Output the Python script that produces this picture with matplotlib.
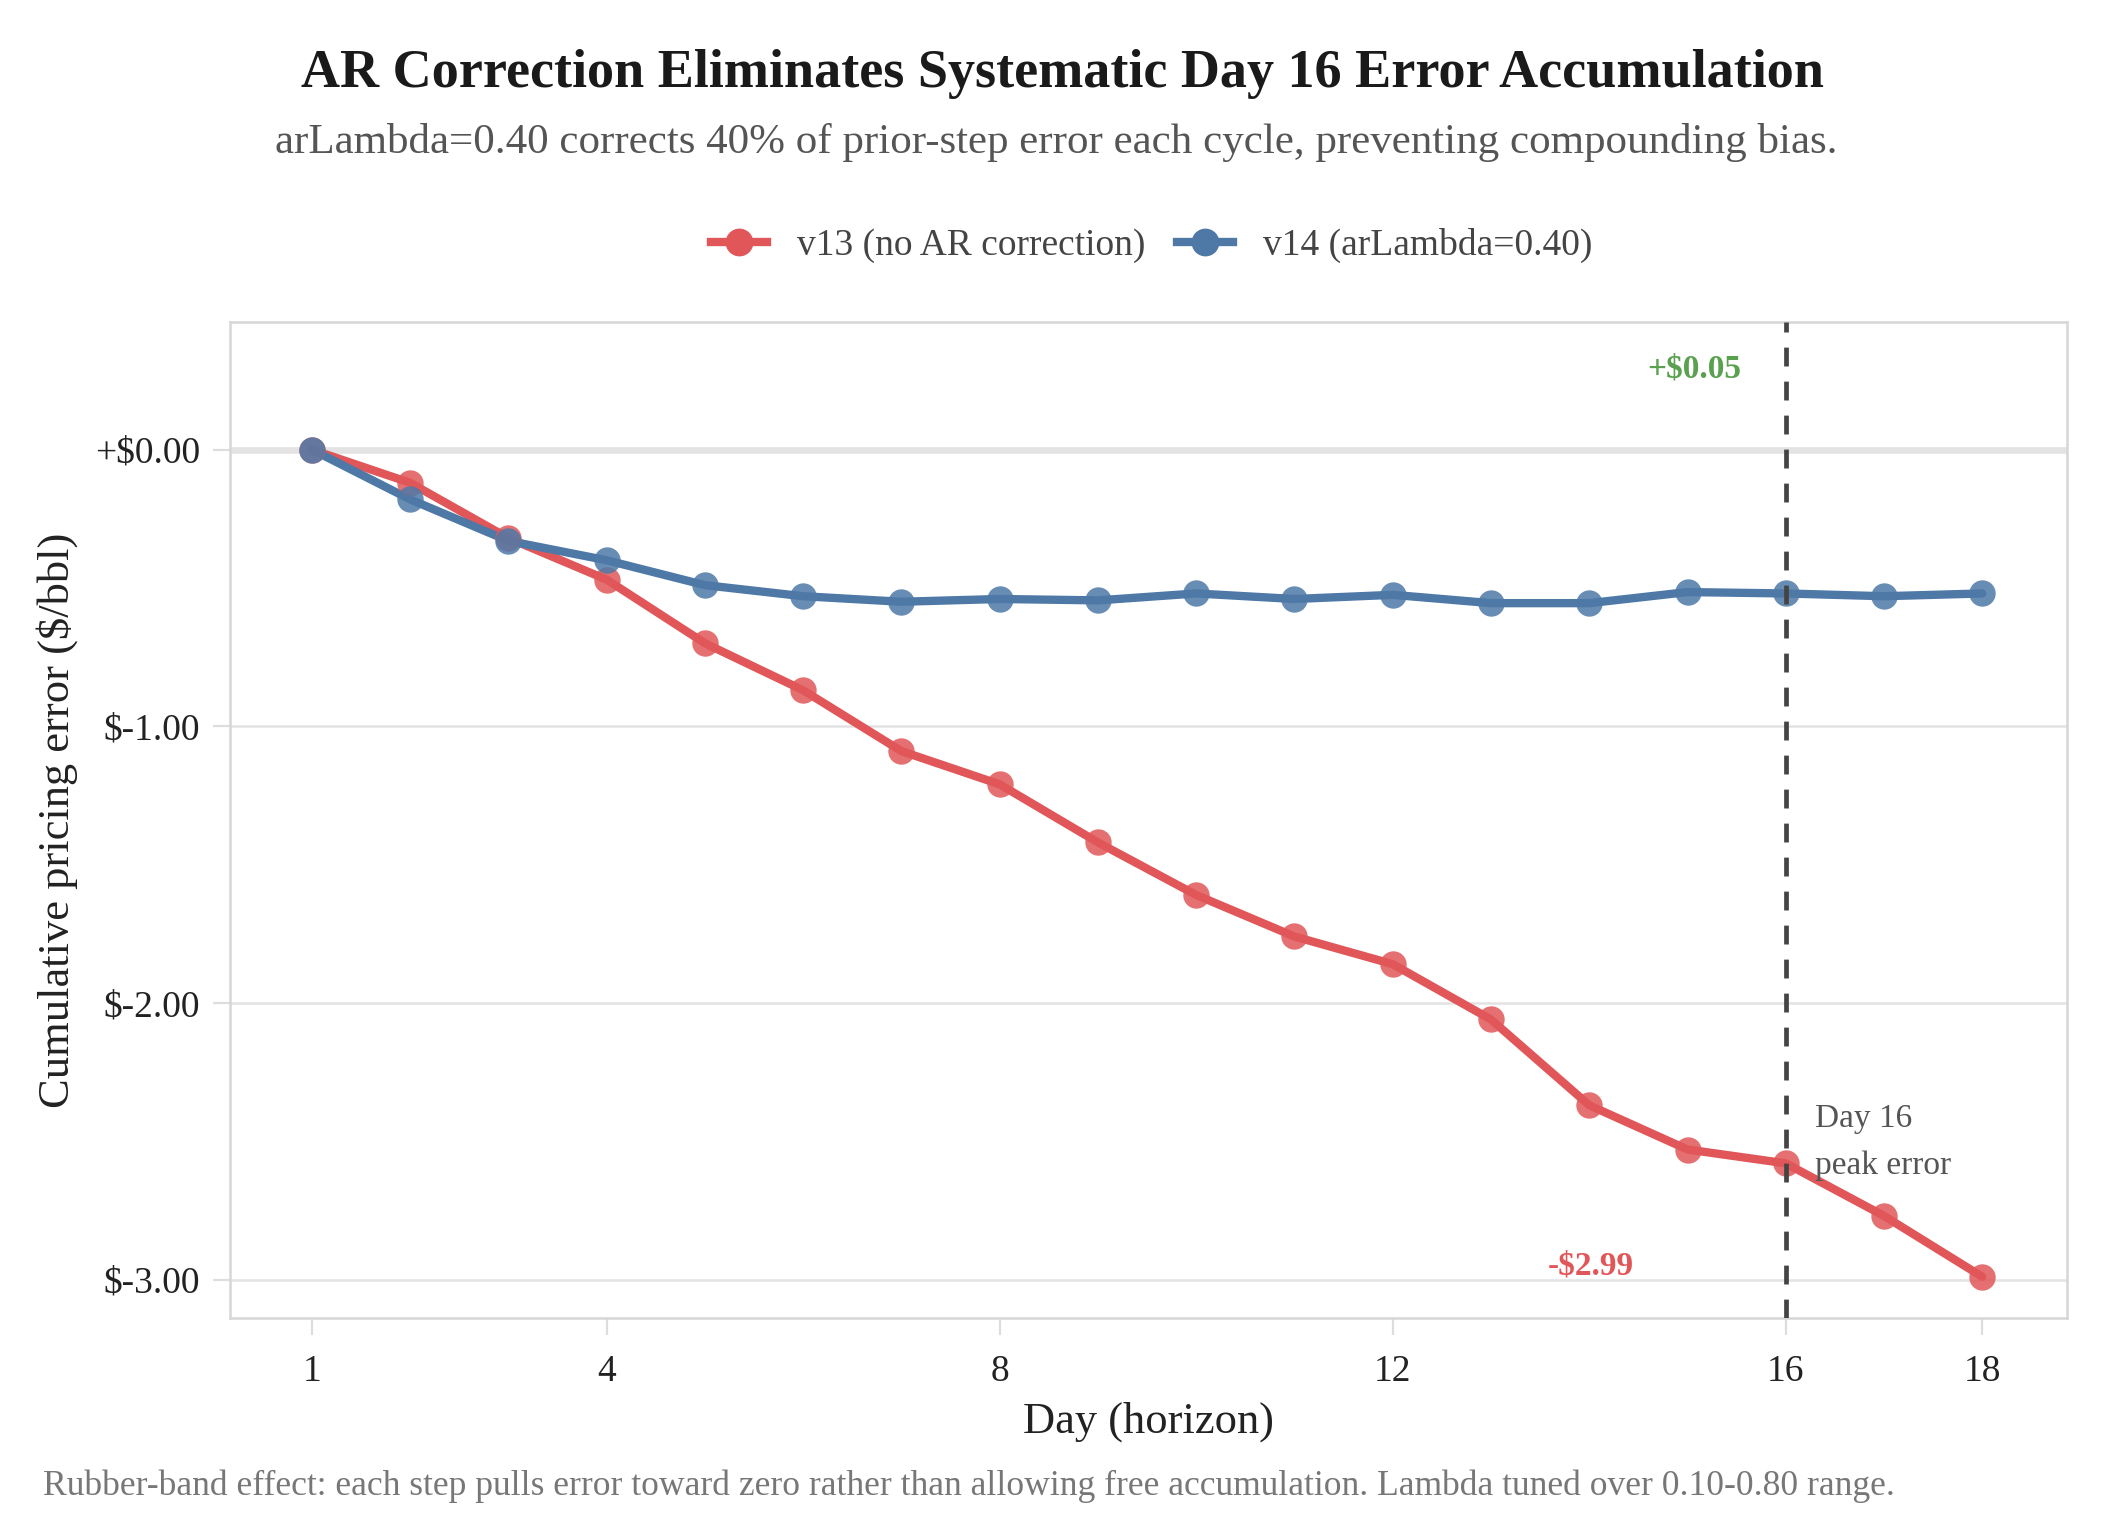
import matplotlib
matplotlib.use("Agg")
import matplotlib.pyplot as plt
from matplotlib.lines import Line2D

plt.rcParams['font.family'] = ['Liberation Serif', 'DejaVu Serif']

days = list(range(1, 19))
v13 = [0.00, -0.12, -0.32, -0.47, -0.70, -0.87, -1.09, -1.21, -1.42, -1.61,
       -1.76, -1.86, -2.06, -2.37, -2.53, -2.58, -2.77, -2.99]
v14 = [0.00, -0.18, -0.33, -0.40, -0.49, -0.53, -0.55, -0.54, -0.545, -0.52,
       -0.54, -0.525, -0.555, -0.555, -0.515, -0.52, -0.53, -0.52]
xticks = [1, 4, 8, 12, 16, 18]
yticks = [0, -1, -2, -3]
ytick_labels = ['+$0.00', '$-1.00', '$-2.00', '$-3.00']

RED = '#E15759'
BLUE = '#4E79A7'
GREEN = '#59A14F'

fig = plt.figure(figsize=(10.625, 7.675), dpi=200)
ax = fig.add_axes([0.1084, 0.1412, 0.8642, 0.6488])

for y in yticks:
    ax.axhline(y, color='#e3e3e3', lw=2.4 if y == 0 else 0.9, zorder=0)

for vals, col in [(v13, RED), (v14, BLUE)]:
    ax.plot(days, vals, color=col, lw=3.0, zorder=3, solid_capstyle='round')
    ax.plot(days, vals, ls='none', marker='o', ms=9.5, color=col, alpha=0.85,
            markeredgewidth=0, zorder=4)

ax.axvline(16, color='#444444', lw=1.7, ls=(0, (4, 3.2)), zorder=5)

ax.text(15.55, 0.29, '+$0.05', color=GREEN, fontsize=12, fontweight='bold',
        ha='right', va='center')
ax.text(14.45, -2.95, '-$2.99', color=RED, fontsize=12, fontweight='bold',
        ha='right', va='center')
ax.text(16.3, -2.42, 'Day 16', color='#555555', fontsize=12, ha='left', va='center')
ax.text(16.3, -2.59, 'peak error', color='#555555', fontsize=12, ha='left', va='center')

ax.set_xlim(0.17, 18.86)
ax.set_ylim(-3.14, 0.46)
ax.set_xticks(xticks)
ax.set_yticks(yticks)
ax.set_yticklabels(ytick_labels)
ax.tick_params(axis='both', colors='#dddddd', labelcolor='#222222', labelsize=13.5,
               length=6, width=0.8)
ax.tick_params(axis='x', pad=7)
ax.tick_params(axis='y', pad=5)
for s in ax.spines.values():
    s.set_color('#d6d6d6')
    s.set_linewidth(0.9)

ax.set_xlabel('Day (horizon)', fontsize=16, color='#222222')
ax.xaxis.set_label_coords(0.5, -0.084)
ax.set_ylabel('Cumulative pricing error ($/bbl)', fontsize=16, color='#222222')
ax.yaxis.set_label_coords(-0.083, 0.5)

fig.text(0.5, 0.9515, 'AR Correction Eliminates Systematic Day 16 Error Accumulation',
         ha='center', va='center', fontsize=19.5, fontweight='bold', color='#1a1a1a')
fig.text(0.497, 0.907, 'arLambda=0.40 corrects 40% of prior-step error each cycle, preventing compounding bias.',
         ha='center', va='center', fontsize=15.5, color='#555555')
fig.text(0.0204, 0.032, 'Rubber-band effect: each step pulls error toward zero rather than allowing free accumulation. Lambda tuned over 0.10-0.80 range.',
         ha='left', va='center', fontsize=12.8, color='#777777')

handles = [Line2D([], [], color=RED, lw=3.0, marker='o', ms=9),
           Line2D([], [], color=BLUE, lw=3.0, marker='o', ms=9)]
fig.legend(handles, ['v13 (no AR correction)', 'v14 (arLambda=0.40)'],
           loc='center', bbox_to_anchor=(0.542, 0.840), ncol=2, frameon=False,
           fontsize=13.5, labelcolor='#444444', handlelength=1.5, columnspacing=0.85,
           handletextpad=0.8)

fig.savefig('out.png', dpi=200)
